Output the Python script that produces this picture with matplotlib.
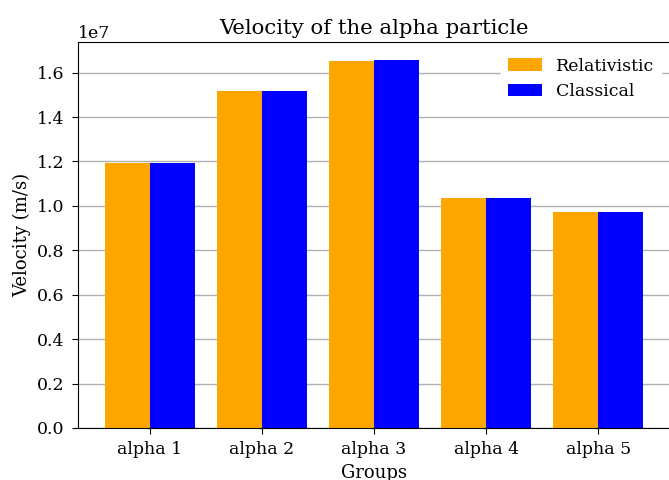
"""Bar chart comparing relativistic and classical alpha particle velocities."""

import matplotlib

matplotlib.use("Agg")
import matplotlib.pyplot as plt
import numpy as np

GROUPS = ["alpha 1", "alpha 2", "alpha 3", "alpha 4", "alpha 5"]
RELATIVISTIC = [1.193e7, 1.517e7, 1.653e7, 1.034e7, 0.973e7]
CLASSICAL = [1.195e7, 1.519e7, 1.655e7, 1.035e7, 0.974e7]

plt.rcParams["font.family"] = "DejaVu Serif"
plt.rcParams["font.size"] = 12.5

fig = plt.figure(figsize=(6.69, 4.8), dpi=100)
ax = fig.add_axes([78 / 669, 52 / 480, 592 / 669, 386 / 480])

x = np.arange(len(GROUPS))
width = 0.4
ax.bar(x - width / 2, RELATIVISTIC, width, color="orange", label="Relativistic")
ax.bar(x + width / 2, CLASSICAL, width, color="blue", label="Classical")

ax.set_xticks(x)
ax.set_xticklabels(GROUPS)
ax.set_xlabel("Groups", fontsize=13)
ax.set_ylabel("Velocity (m/s)", fontsize=13)
ax.set_title("Velocity of the alpha particle", fontsize=15.3)
ax.tick_params(axis="both", length=4.5, pad=5)
ax.set_axisbelow(True)
ax.grid(axis="y", color="#b0b0b0", linewidth=1)
legend = ax.legend(loc="upper right", frameon=True, framealpha=1)
legend.get_frame().set_edgecolor("white")

fig.savefig("out.png", dpi=100)
